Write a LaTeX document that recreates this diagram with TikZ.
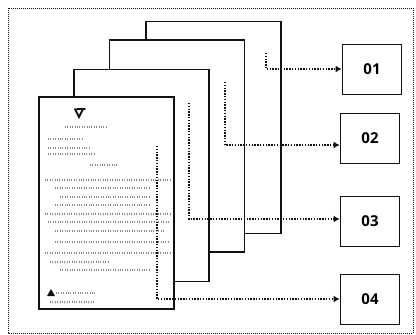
\documentclass[tikz,border=0pt]{standalone}
\usepackage{fontspec}
\setsansfont{Open Sans}
\usepackage{xcolor}
\usetikzlibrary{positioning,arrows.meta}
\definecolor{inkdark}{HTML}{111111}
\definecolor{inkgray}{HTML}{8A8A8A}

\begin{document}
\begin{tikzpicture}[
  x=1pt, y=-1pt,
  font=\sffamily\bfseries\fontsize{15}{15}\selectfont,
  >={Latex[length=6pt,width=7pt]},
  page/.style={draw=inkdark, fill=white, line width=1.8pt,
               minimum width=135pt, minimum height=212pt, inner sep=0pt},
  outbox/.style={draw=inkdark, fill=white, line width=1.8pt,
                 minimum width=59pt, minimum height=50pt, inner sep=0pt},
  arr/.style={->, inkdark, line width=1.2pt, dash pattern=on 1.3pt off 1.5pt},
  txt/.style={inkgray, line width=1.3pt, dash pattern=on 1pt off 1.4pt},
]
\useasboundingbox (0,0) rectangle (416,335);
\draw[inkdark, line width=1pt, densely dotted] (8,8) rectangle (413,333);

% stack of pages, back to front
\node[page] (p4) at (213.5,127.5) {};
\node[page] (p3) at (177,146)   {};
\node[page] (p2) at (141.5,175.5) {};
\node[page] (p1) at (106.5,203) {};

% front page content
\draw[inkdark, line width=1.8pt, line cap=round]
  (75,109) -- (79,117) -- (83,109) (77,109) -- (85,109);
\foreach \ya/\xa/\xb in {127/65/108, 139/48/83, 148/48/90, 154/48/95,
    165/90/118, 180/45/170, 188/55/150, 197/60/150, 205/55/150,
    214/45/170, 222/48/170, 231/55/165, 242/55/170, 253/45/170,
    262/50/110, 270/60/150, 293/56/95, 302/50/95}
  \draw[txt] (\xa,\ya) -- (\xb,\ya);
\fill[inkdark] (47,296) -- (51,289) -- (55,296) -- cycle;

% output boxes
\node[outbox] (b1) at (372,69.5)  {01};
\node[outbox] (b2) at (370,138.5) {02};
\node[outbox] (b3) at (370,221.5) {03};
\node[outbox] (b4) at (370,299.5) {04};

% dotted links from pages to boxes
\coordinate (s1) at (266,53);  \coordinate (t1) at (266,69);
\coordinate (s2) at (225,82);  \coordinate (t2) at (225,145);
\coordinate (s3) at (189,103); \coordinate (t3) at (189,219);
\coordinate (s4) at (157,146); \coordinate (t4) at (157,299);
\draw[arr] (s1) -- (t1) -- (t1 -| b1.west);
\draw[arr] (s2) -- (t2) -- (t2 -| b2.west);
\draw[arr] (s3) -- (t3) -- (t3 -| b3.west);
\draw[arr] (s4) -- (t4) -- (t4 -| b4.west);
\end{tikzpicture}
\end{document}
